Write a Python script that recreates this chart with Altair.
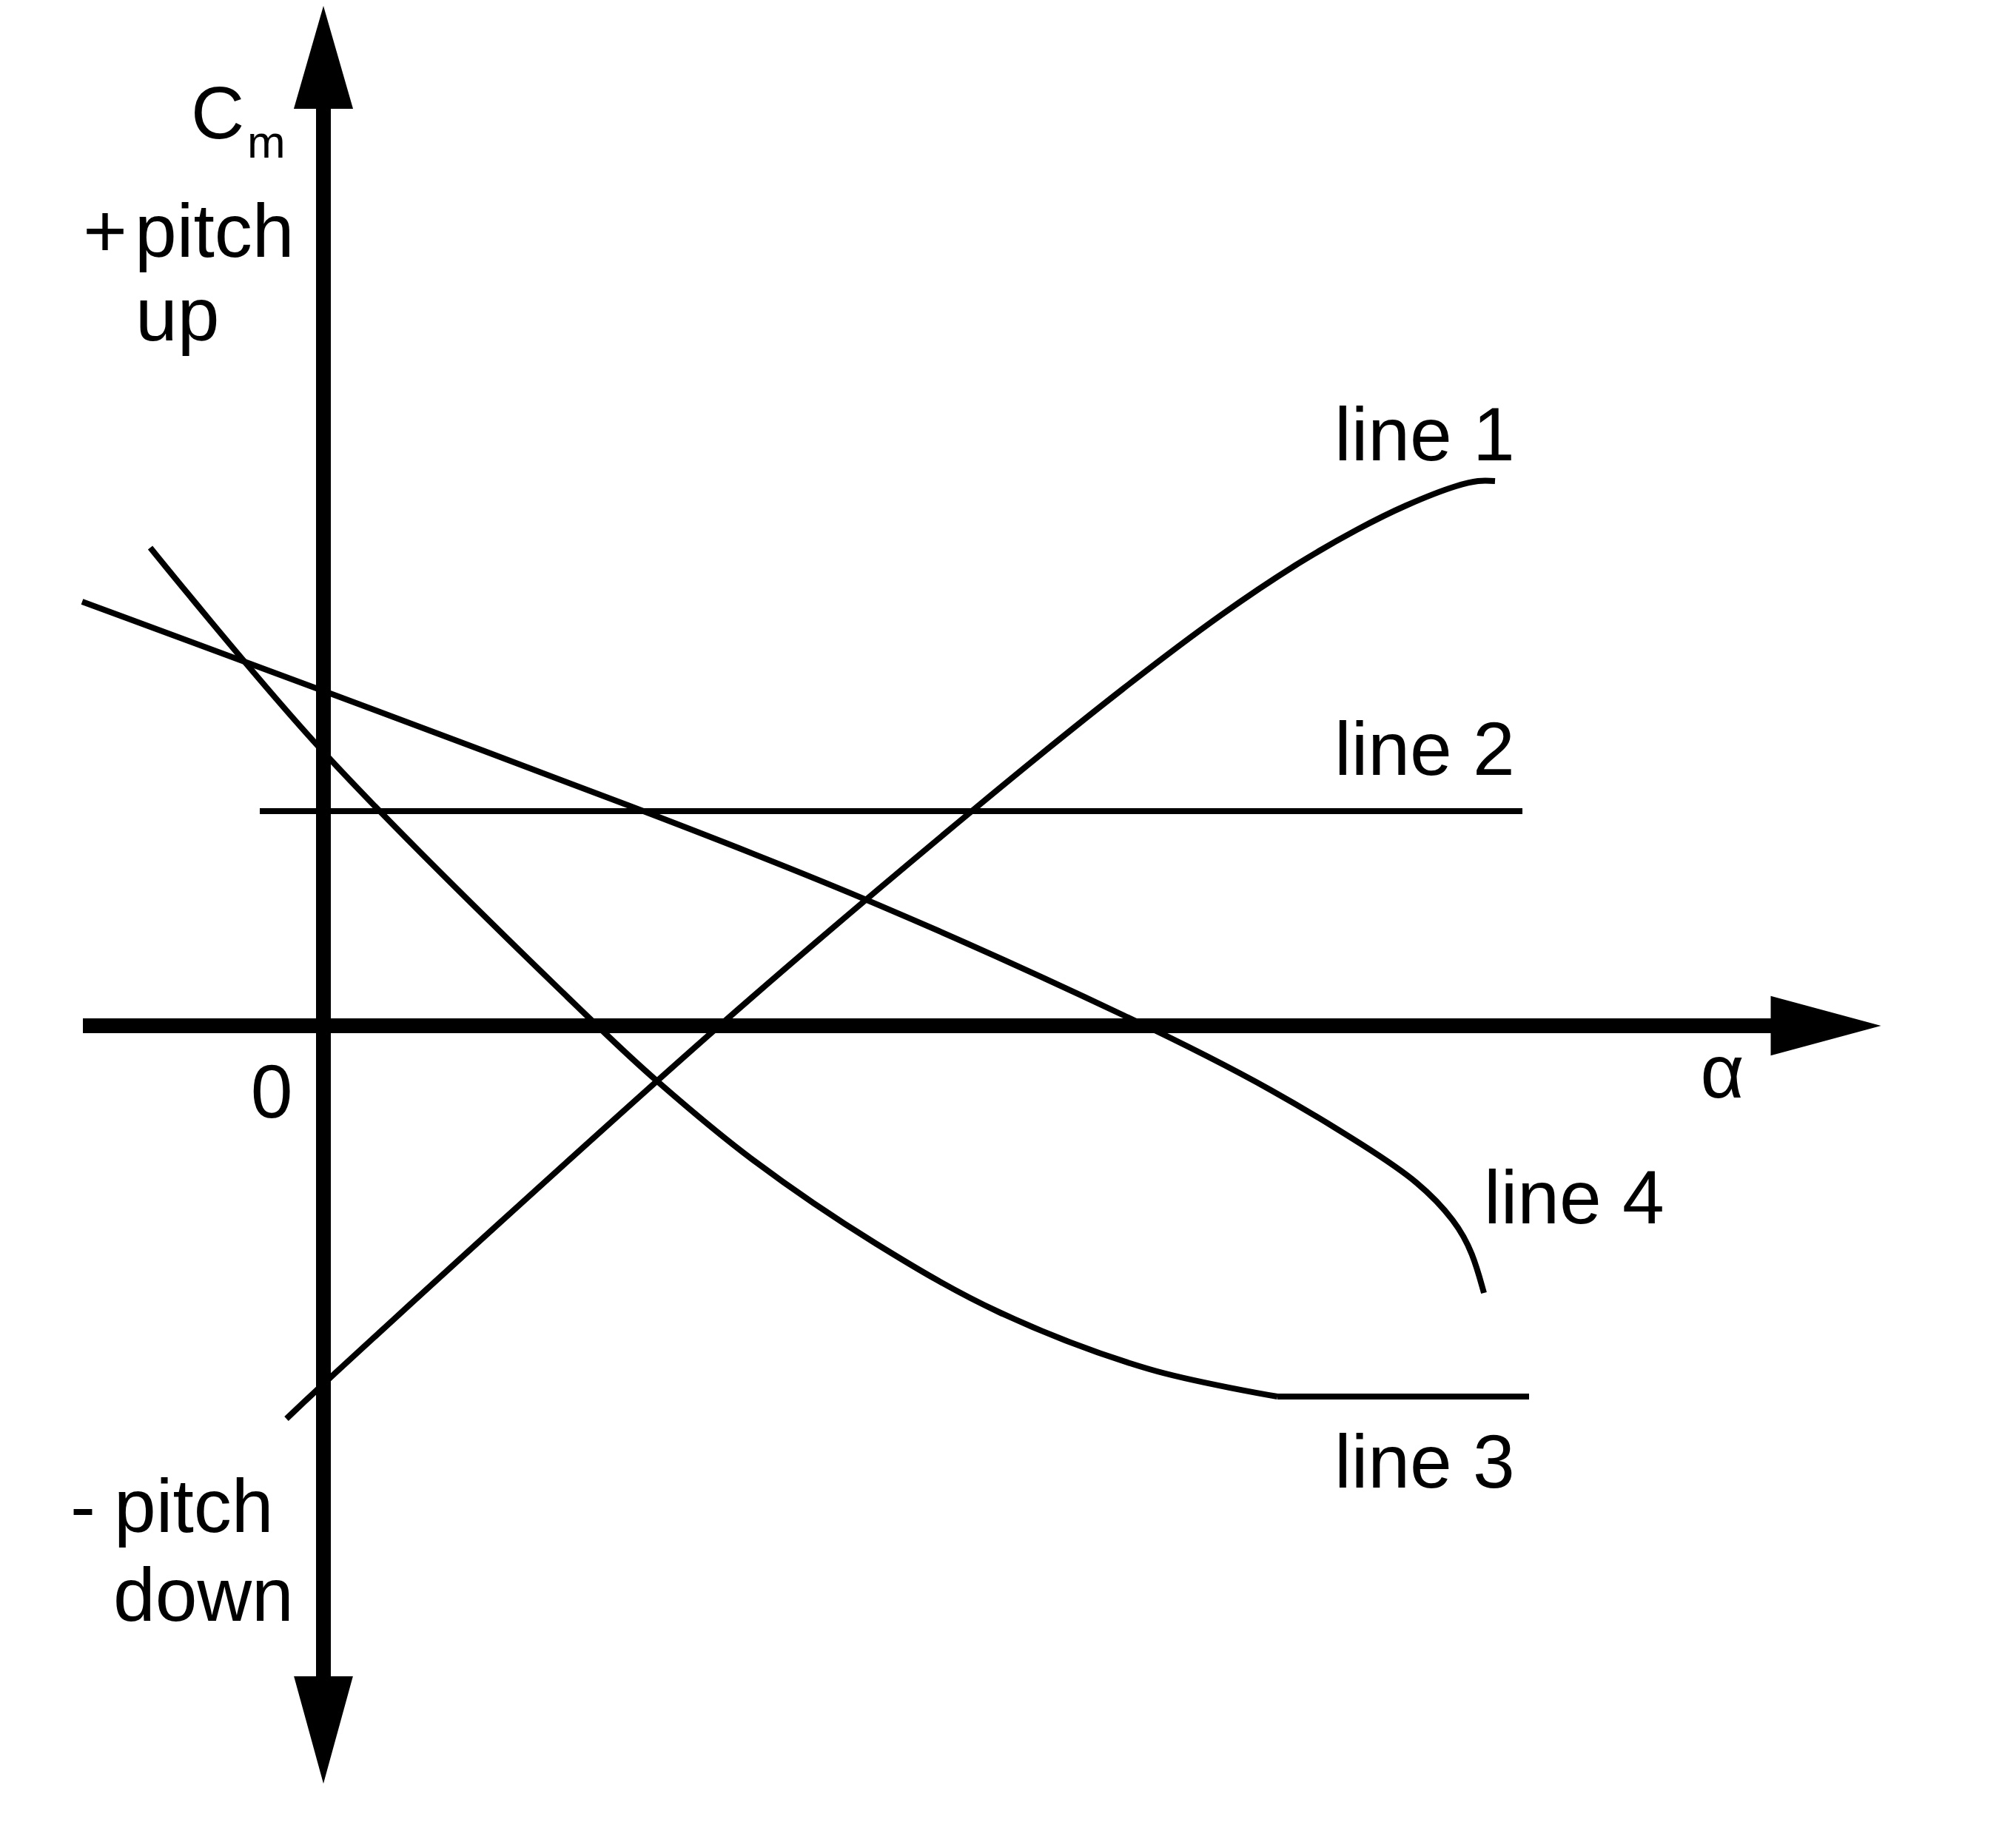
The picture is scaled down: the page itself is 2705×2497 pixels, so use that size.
import altair as alt
import pandas as pd

# ---- data (chart units; the two axes cross at alpha = 0, Cm = 0) ----
line1_alpha = [-0.50, 0.00, 5.35, 8.76, 10.80, 12.13, 13.13, 13.96, 14.63, 15.30, 15.60, 15.83]
line1_cm = [-5.31, -4.84, 0.00, 2.90, 4.55, 5.55, 6.22, 6.70, 7.03, 7.29, 7.36, 7.36]

line2_alpha = [-0.86, 16.20]
line2_cm = [2.90, 2.90]

# line 3: curved part, then a straight flat tail
line3_alpha = [-2.34, 0.00, 3.70, 4.50, 5.80, 7.46, 9.13, 11.16, 12.89]
line3_cm = [6.46, 3.70, 0.00, -0.74, -1.81, -2.94, -3.87, -4.64, -5.01]
line3_tail_alpha = [12.89, 16.29]
line3_tail_cm = [-5.01, -5.01]

line4_alpha = [-3.26, 0.00, 4.34, 7.36, 11.16, 12.88, 14.13, 14.80, 15.30, 15.53, 15.68]
line4_cm = [5.73, 4.53, 2.90, 1.73, 0.00, -0.89, -1.66, -2.11, -2.64, -3.07, -3.61]

# axis extents
alpha_axis = [-3.25, 19.60]
cm_axis = [12.45, -8.85]
arrow_up = [0.0, 13.085]
arrow_down = [0.0, -9.515]
arrow_right = [20.30, 0.0]

# text labels
left_labels = ["pitch", "up", "pitch", "down", "line 1", "line 2", "line 3", "line 4"]
left_x = [-2.55, -2.54, -2.83, -2.84, 13.66, 13.66, 13.66, 15.68]
left_y = [10.39, 9.26, -6.84, -8.04, 7.64, 3.39, -6.24, -2.67]

center_labels = ["+", "-", "0", "α"]
center_x = [-2.95, -3.25, -0.70, 18.90]
center_y = [10.39, -6.84, -1.24, -0.97]

cm_main = ["C"]
cm_main_x = [-1.79]
cm_main_y = [11.99]
cm_sub = ["m"]
cm_sub_x = [-1.03]
cm_sub_y = [11.73]

X_DOMAIN = [-4.29, 22.51]
Y_DOMAIN = [-10.92, 13.78]
W, H = 2680, 2470
FONT = "Liberation Sans"

xs = alt.Scale(domain=X_DOMAIN, nice=False, zero=False)
ys = alt.Scale(domain=Y_DOMAIN, nice=False, zero=False)


def X(field="alpha"):
    return alt.X(f"{field}:Q", scale=xs, axis=None)


def Y(field="cm"):
    return alt.Y(f"{field}:Q", scale=ys, axis=None)


def curve(alpha, cm, interp):
    df = pd.DataFrame({"alpha": alpha, "cm": cm})
    return alt.Chart(df).mark_line(
        color="black", strokeWidth=8, interpolate=interp, strokeCap="butt"
    ).encode(x=X(), y=Y(), order="alpha:Q")


c1 = curve(line1_alpha, line1_cm, "catmull-rom")
c2 = curve(line2_alpha, line2_cm, "linear")
c3 = curve(line3_alpha, line3_cm, "catmull-rom")
c3t = curve(line3_tail_alpha, line3_tail_cm, "linear")
c4 = curve(line4_alpha, line4_cm, "basis")

haxis = alt.Chart(pd.DataFrame({"a1": [alpha_axis[0]], "a2": [alpha_axis[1]], "c": [0.0]})).mark_rule(
    color="black", strokeWidth=20, strokeCap="butt"
).encode(x=X("a1"), x2="a2:Q", y=Y("c"))

vaxis = alt.Chart(pd.DataFrame({"a": [0.0], "c1": [cm_axis[0]], "c2": [cm_axis[1]]})).mark_rule(
    color="black", strokeWidth=20, strokeCap="butt"
).encode(x=X("a"), y=Y("c1"), y2="c2:Q")


def arrow(pos, path, side):
    return alt.Chart(pd.DataFrame({"alpha": [pos[0]], "cm": [pos[1]]})).mark_point(
        shape=path, filled=True, color="black", opacity=1, size=side * side, strokeWidth=0
    ).encode(x=X(), y=Y())


a_up = arrow(arrow_up, "M0,-1L0.576,1L-0.576,1Z", 139)
a_down = arrow(arrow_down, "M0,1L0.55,-1L-0.55,-1Z", 145)
a_right = arrow(arrow_right, "M1,0L-1,-0.54L-1,0.54Z", 149)


def texts(labels, tx, ty, size, align):
    df = pd.DataFrame({"label": labels, "alpha": tx, "cm": ty})
    return alt.Chart(df).mark_text(
        align=align, baseline="alphabetic", font=FONT, fontSize=size, color="black"
    ).encode(x=X(), y=Y(), text="label:N")


t_left = texts(left_labels, left_x, left_y, 102, "left")
t_center = texts(center_labels, center_x, center_y, 102, "center")
t_c = texts(cm_main, cm_main_x, cm_main_y, 100, "left")
t_m = texts(cm_sub, cm_sub_x, cm_sub_y, 62, "left")

chart = alt.layer(
    haxis, vaxis, a_up, a_down, a_right, c1, c2, c3, c3t, c4, t_left, t_center, t_c, t_m
).properties(
    width=W, height=H, autosize=alt.AutoSizeParams(type="none"), padding=0, background="white"
).configure_view(stroke=None)

chart.save("out.html", embed_options={"renderer": "svg", "actions": False})
